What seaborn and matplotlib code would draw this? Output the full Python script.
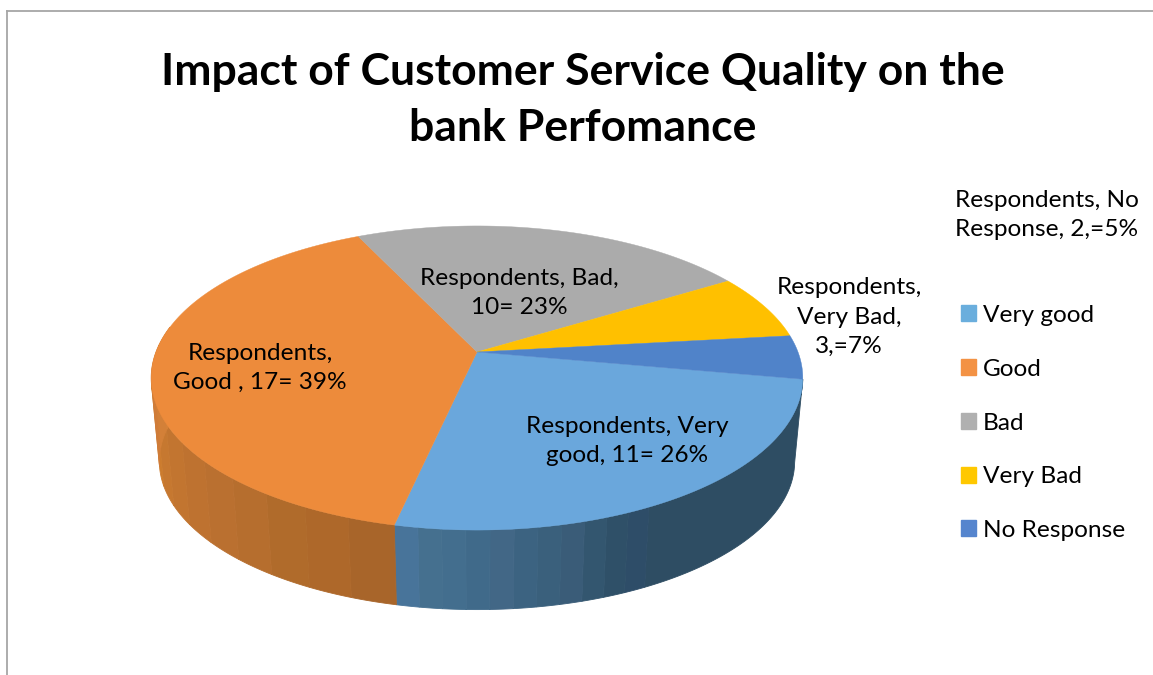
import numpy as np
import seaborn as sns
import matplotlib.pyplot as plt
from matplotlib.patches import Patch

# DATA
categories = ["Very good", "Good", "Bad", "Very Bad", "No Response"]
respondents = [11, 17, 10, 3, 2]
slice_labels = ["Respondents, Very\ngood, 11= 26%",
                "Respondents,\nGood , 17= 39%",
                "Respondents, Bad,\n10= 23%",
                "Respondents,\nVery Bad,\n3,=7%",
                "Respondents, No\nResponse, 2,=5%"]
title = "Impact of Customer Service Quality on the\nbank Perfomance"

# COLOURS
colors = ["#6AA7DC", "#ED8B3B", "#ABABAB", "#FFC000", "#5083C9"]
legend_colors = ["#6AAEDD", "#F39244", "#B0B0B0", "#FFC800", "#5585CE"]
wall_dark = ["#2E4D63"]
wall_blue = ["#2E4D68", "#2F5068", "#33566F", "#3A5C78", "#3A607C", "#3C6381", "#426786",
             "#406A8A", "#436E8E", "#45708F", "#48749A"]
wall_orange = ["#A8652A", "#AE682A", "#B06B2B", "#B66E2E", "#BA7030", "#BE7230", "#C27530",
               "#C67830", "#CC7C2E", "#D07C38", "#D38038", "#D68238"]

# POSITIONS
label_pos = [(627, 441), (260, 368), (519, 293), (849, 317), (1047, 215)]
cx, cy = 477, 352      # apex of the pie
b, a, k = 321, 147.6, 0.171  # perspective of the disc
depth, shrink = 84, 0.975
start = -10.3


def project(deg, scale=1.0, drop=0):
    th = np.radians(deg)
    u, v = np.cos(th), np.sin(th)
    w = 1 + k * v
    return cx + scale * b * u / w, cy + drop - scale * a * v / w


sns.set_theme(style="white")
plt.rcParams["font.family"] = ["Lato", "DejaVu Sans"]

fig = plt.figure(figsize=(11.53, 6.75), dpi=100)
ax = fig.add_axes([7 / 1153, 0, 1 - 7 / 1153, 1 - 11 / 675])
ax.set_xlim(7, 1153)
ax.set_ylim(675, 11)
ax.set_xticks([])
ax.set_yticks([])
sns.despine(ax=ax, top=False, right=True, bottom=True)
for side in ["top", "left"]:
    ax.spines[side].set_color("#A6A6A6")
    ax.spines[side].set_linewidth(1.3)

# slice edges, clockwise from the right
sweep = np.cumsum([0] + respondents) / sum(respondents) * 360
edges = start - sweep


def wall(deg_from, deg_to, stripes):
    steps = np.linspace(deg_from, deg_to, len(stripes) + 1)
    for i, col in enumerate(stripes):
        th = np.linspace(steps[i], steps[i + 1], 60)
        x1, y1 = project(th)
        x2, y2 = project(th, shrink, depth)
        ax.fill(np.r_[x1, x2[::-1]], np.r_[y1, y2[::-1]], color=col, lw=0.6, zorder=2)


# SIDE OF THE PIE
wall(edges[0], -63, wall_dark)
wall(-63, edges[1], wall_blue)
wall(edges[1], -190, wall_orange)

# TOP OF THE PIE
for i, col in enumerate(colors):
    x, y = project(np.linspace(edges[i], edges[i + 1], 120))
    ax.fill(np.r_[cx, x], np.r_[cy, y], color=col, lw=0.3, zorder=3)

for text, (px, py) in zip(slice_labels, label_pos):
    ax.text(px, py, text, ha="center", va="center", fontsize=17.6,
            color="black", linespacing=1.5, zorder=4)

ax.text(583, 100, title, ha="center", va="center", fontsize=32,
        fontweight="bold", color="black", linespacing=1.47)

handles = [Patch(color=c, label=n) for c, n in zip(legend_colors, categories)]
ax.legend(handles=handles, loc="upper left", bbox_to_anchor=(961, 305), bbox_transform=ax.transData,
          frameon=False, fontsize=17.6, labelcolor="black", handlelength=0.62, handleheight=0.62,
          handletextpad=0.26, labelspacing=1.34, borderpad=0, borderaxespad=0)

fig.savefig("out.png", dpi=100)
plt.close()
